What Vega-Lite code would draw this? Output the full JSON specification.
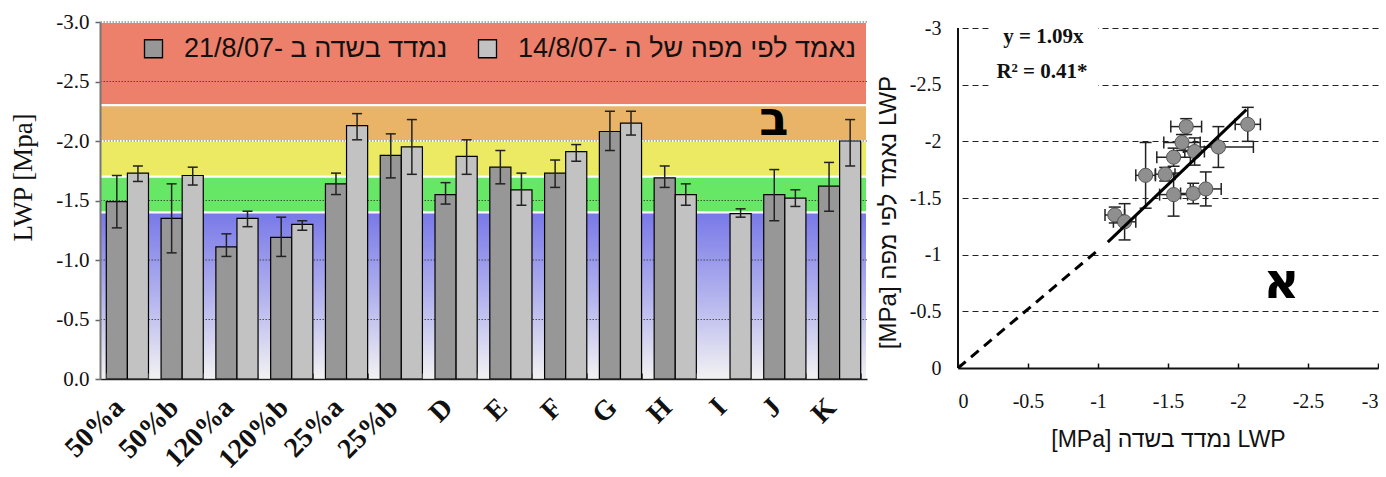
{
  "$schema": "https://vega.github.io/schema/vega-lite/v6.json",
  "background": "white",
  "padding": {"left": 9, "top": 11, "right": 0, "bottom": 0},
  "config": {"view": {"stroke": null}},
  "bounds": "flush",
  "spacing": 91,
  "datasets": {
    "bands": [
      {"band": "red", "y0": -3.0, "y1": -2.3},
      {"band": "orange", "y0": -2.3, "y1": -2.0},
      {"band": "yellow", "y0": -2.0, "y1": -1.7},
      {"band": "green", "y0": -1.7, "y1": -1.4}
    ],
    "grid": [{"g": -0.5}, {"g": -1.0}, {"g": -1.5}, {"g": -2.0}, {"g": -2.5}, {"g": -3.0}],
    "bars": [
      {"cat": "50%a", "s": "21/8/07- נמדד בשדה ב", "v": -1.49, "lo": -1.71, "hi": -1.27},
      {"cat": "50%a", "s": "14/8/07- נאמד לפי מפה של ה", "v": -1.73, "lo": -1.79, "hi": -1.66},
      {"cat": "50%b", "s": "21/8/07- נמדד בשדה ב", "v": -1.35, "lo": -1.64, "hi": -1.06},
      {"cat": "50%b", "s": "14/8/07- נאמד לפי מפה של ה", "v": -1.71, "lo": -1.78, "hi": -1.63},
      {"cat": "120%a", "s": "21/8/07- נמדד בשדה ב", "v": -1.11, "lo": -1.22, "hi": -1.03},
      {"cat": "120%a", "s": "14/8/07- נאמד לפי מפה של ה", "v": -1.35, "lo": -1.41, "hi": -1.28},
      {"cat": "120%b", "s": "21/8/07- נמדד בשדה ב", "v": -1.19, "lo": -1.36, "hi": -1.03},
      {"cat": "120%b", "s": "14/8/07- נאמד לפי מפה של ה", "v": -1.30, "lo": -1.33, "hi": -1.25},
      {"cat": "25%a", "s": "21/8/07- נמדד בשדה ב", "v": -1.64, "lo": -1.73, "hi": -1.55},
      {"cat": "25%a", "s": "14/8/07- נאמד לפי מפה של ה", "v": -2.13, "lo": -2.23, "hi": -2.01},
      {"cat": "25%b", "s": "21/8/07- נמדד בשדה ב", "v": -1.88, "lo": -2.06, "hi": -1.69},
      {"cat": "25%b", "s": "14/8/07- נאמד לפי מפה של ה", "v": -1.95, "lo": -2.18, "hi": -1.72},
      {"cat": "D", "s": "21/8/07- נמדד בשדה ב", "v": -1.55, "lo": -1.65, "hi": -1.47},
      {"cat": "D", "s": "14/8/07- נאמד לפי מפה של ה", "v": -1.87, "lo": -2.01, "hi": -1.72},
      {"cat": "E", "s": "21/8/07- נמדד בשדה ב", "v": -1.78, "lo": -1.92, "hi": -1.64},
      {"cat": "E", "s": "14/8/07- נאמד לפי מפה של ה", "v": -1.59, "lo": -1.73, "hi": -1.46},
      {"cat": "F", "s": "21/8/07- נמדד בשדה ב", "v": -1.73, "lo": -1.84, "hi": -1.61},
      {"cat": "F", "s": "14/8/07- נאמד לפי מפה של ה", "v": -1.91, "lo": -1.97, "hi": -1.83},
      {"cat": "G", "s": "21/8/07- נמדד בשדה ב", "v": -2.08, "lo": -2.25, "hi": -1.92},
      {"cat": "G", "s": "14/8/07- נאמד לפי מפה של ה", "v": -2.15, "lo": -2.25, "hi": -2.05},
      {"cat": "H", "s": "21/8/07- נמדד בשדה ב", "v": -1.69, "lo": -1.79, "hi": -1.61},
      {"cat": "H", "s": "14/8/07- נאמד לפי מפה של ה", "v": -1.55, "lo": -1.64, "hi": -1.46},
      {"cat": "I", "s": "14/8/07- נאמד לפי מפה של ה", "v": -1.39, "lo": -1.43, "hi": -1.36},
      {"cat": "J", "s": "21/8/07- נמדד בשדה ב", "v": -1.55, "lo": -1.76, "hi": -1.33},
      {"cat": "J", "s": "14/8/07- נאמד לפי מפה של ה", "v": -1.52, "lo": -1.59, "hi": -1.45},
      {"cat": "K", "s": "21/8/07- נמדד בשדה ב", "v": -1.62, "lo": -1.82, "hi": -1.41},
      {"cat": "K", "s": "14/8/07- נאמד לפי מפה של ה", "v": -2.00, "lo": -2.18, "hi": -1.79}
    ],
    "pts": [
      {"site": "G", "x": -2.07, "y": -2.15, "xa": -2.16, "xb": -1.98, "ya": -2.30, "yb": -2.00},
      {"site": "25%a", "x": -1.63, "y": -2.13, "xa": -1.74, "xb": -1.52, "ya": -2.20, "yb": -2.06},
      {"site": "K", "x": -1.60, "y": -1.99, "xa": -1.73, "xb": -1.47, "ya": -2.06, "yb": -1.92},
      {"site": "25%b", "x": -1.86, "y": -1.95, "xa": -2.11, "xb": -1.61, "ya": -2.13, "yb": -1.77},
      {"site": "F", "x": -1.69, "y": -1.91, "xa": -1.76, "xb": -1.62, "ya": -2.03, "yb": -1.79},
      {"site": "D", "x": -1.54, "y": -1.86, "xa": -1.66, "xb": -1.42, "ya": -1.94, "yb": -1.78},
      {"site": "50%b", "x": -1.34, "y": -1.70, "xa": -1.41, "xb": -1.27, "ya": -1.99, "yb": -1.41},
      {"site": "50%a", "x": -1.48, "y": -1.71, "xa": -1.55, "xb": -1.41, "ya": -1.77, "yb": -1.65},
      {"site": "J", "x": -1.54, "y": -1.53, "xa": -1.64, "xb": -1.44, "ya": -1.72, "yb": -1.34},
      {"site": "H", "x": -1.68, "y": -1.54, "xa": -1.77, "xb": -1.59, "ya": -1.63, "yb": -1.45},
      {"site": "E", "x": -1.77, "y": -1.58, "xa": -1.88, "xb": -1.66, "ya": -1.73, "yb": -1.43},
      {"site": "120%a", "x": -1.12, "y": -1.35, "xa": -1.19, "xb": -1.05, "ya": -1.42, "yb": -1.28},
      {"site": "120%b", "x": -1.19, "y": -1.29, "xa": -1.27, "xb": -1.11, "ya": -1.45, "yb": -1.13}
    ],
    "dash": [{"x": 0, "y": 0}, {"x": -1.0, "y": -1.04}],
    "fit": [{"x": -1.07, "y": -1.11}, {"x": -2.06, "y": -2.28}]
  },
  "hconcat": [
    {
      "width": 767,
      "height": 357,
      "layer": [
        {
          "data": {"name": "bands"},
          "mark": {"type": "rect", "stroke": "white", "strokeWidth": 2},
          "encoding": {
            "y": {"field": "y0", "type": "quantitative", "scale": {"domain": [-3, 0], "reverse": true, "nice": false, "zero": false},
              "axis": {"title": "LWP [Mpa]", "titleFont": "Liberation Serif", "titleFontSize": 27, "titleFontWeight": "normal", "titleColor": "#111",
                "titleX": -77, "titleY": 155, "titleAngle": -90, "titleAlign": "center", "titleBaseline": "middle",
                "values": [0, -0.5, -1, -1.5, -2, -2.5, -3],
                "labelExpr": "datum.value == 0 ? '0.0' : '-' + format(-datum.value, '.1f')",
                "labelFont": "Liberation Serif", "labelFontSize": 21, "labelColor": "#111", "labelPadding": 6,
                "tickSize": 5, "tickColor": "#666", "tickWidth": 1.5, "domainColor": "#777", "domainWidth": 2, "grid": false, "zindex": 1}},
            "y2": {"field": "y1"},
            "fill": {"field": "band", "type": "nominal",
              "scale": {"domain": ["red", "orange", "yellow", "green"], "range": ["#EC806A", "#E9B468", "#EBEA62", "#66E866"]},
              "legend": null}
          }
        },
        {
          "data": {"values": [{}]},
          "mark": {"type": "rect", "stroke": "white", "strokeWidth": 2,
            "fill": {"gradient": "linear", "x1": 0, "y1": 0, "x2": 0, "y2": 1,
              "stops": [{"offset": 0, "color": "#7878E8"}, {"offset": 0.5, "color": "#B2B2EE"}, {"offset": 1, "color": "#F2F2F2"}]}},
          "encoding": {
            "y": {"datum": -1.4, "type": "quantitative", "scale": {"domain": [-3, 0], "reverse": true, "nice": false, "zero": false}},
            "y2": {"datum": 0}
          }
        },
        {
          "data": {"name": "grid"},
          "mark": {"type": "rule", "color": "#333", "strokeWidth": 1, "strokeDash": [1.5, 1.5], "opacity": 0.8},
          "encoding": {
            "y": {"field": "g", "type": "quantitative", "scale": {"domain": [-3, 0], "reverse": true, "nice": false, "zero": false}}
          }
        },
        {
          "data": {"name": "bars"},
          "mark": {"type": "bar", "stroke": "black", "strokeWidth": 1.2},
          "encoding": {
            "x": {"field": "cat", "type": "nominal",
              "scale": {"domain": ["50%a", "50%b", "120%a", "120%b", "25%a", "25%b", "D", "E", "F", "G", "H", "I", "J", "K"], "paddingInner": 0.23, "paddingOuter": 0.115},
              "axis": {"title": null, "labelAngle": -45, "labelAlign": "right", "labelBaseline": "middle", "labelFont": "Liberation Serif", "labelFontWeight": "bold",
                "labelFontSize": 28, "labelColor": "#111", "labelPadding": 30, "labelOffset": -8, "labelLimit": 0, "tickBand": "extent", "tickSize": -6, "tickColor": "#444",
                "domainColor": "#222", "domainWidth": 1.5, "zindex": 1}},
            "xOffset": {"field": "s", "type": "nominal", "scale": {"domain": ["21/8/07- נמדד בשדה ב", "14/8/07- נאמד לפי מפה של ה"]}},
            "y": {"field": "v", "type": "quantitative", "scale": {"domain": [-3, 0], "reverse": true, "nice": false, "zero": false}},
            "color": {"field": "s", "type": "nominal",
              "scale": {"domain": ["21/8/07- נמדד בשדה ב", "14/8/07- נאמד לפי מפה של ה"], "range": ["#979797", "#C2C2C2"]},
              "legend": {"orient": "none", "legendX": 40, "legendY": 13, "direction": "horizontal", "title": null, "symbolType": "square", "symbolSize": 324,
                "symbolStrokeColor": "black", "symbolStrokeWidth": 1.3, "labelFont": "Liberation Sans, DejaVu Sans", "labelFontSize": 27,
                "labelColor": "#111", "labelOffset": 17, "labelLimit": 0, "columnPadding": 26, "padding": 0}}
          }
        },
        {
          "data": {"name": "bars"},
          "mark": {"type": "rule", "color": "#222", "strokeWidth": 1.5},
          "encoding": {
            "x": {"field": "cat", "type": "nominal",
              "scale": {"domain": ["50%a", "50%b", "120%a", "120%b", "25%a", "25%b", "D", "E", "F", "G", "H", "I", "J", "K"], "paddingInner": 0.23, "paddingOuter": 0.115}},
            "xOffset": {"field": "s", "type": "nominal", "scale": {"domain": ["21/8/07- נמדד בשדה ב", "14/8/07- נאמד לפי מפה של ה"]}},
            "y": {"field": "lo", "type": "quantitative", "scale": {"domain": [-3, 0], "reverse": true, "nice": false, "zero": false}},
            "y2": {"field": "hi"}
          }
        },
        {
          "data": {"name": "bars"},
          "mark": {"type": "point", "shape": "stroke", "size": 100, "filled": false, "stroke": "#222", "strokeWidth": 1.5, "opacity": 1},
          "encoding": {
            "x": {"field": "cat", "type": "nominal",
              "scale": {"domain": ["50%a", "50%b", "120%a", "120%b", "25%a", "25%b", "D", "E", "F", "G", "H", "I", "J", "K"], "paddingInner": 0.23, "paddingOuter": 0.115}},
            "xOffset": {"field": "s", "type": "nominal", "scale": {"domain": ["21/8/07- נמדד בשדה ב", "14/8/07- נאמד לפי מפה של ה"]}},
            "y": {"field": "lo", "type": "quantitative", "scale": {"domain": [-3, 0], "reverse": true, "nice": false, "zero": false}}
          }
        },
        {
          "data": {"name": "bars"},
          "mark": {"type": "point", "shape": "stroke", "size": 100, "filled": false, "stroke": "#222", "strokeWidth": 1.5, "opacity": 1},
          "encoding": {
            "x": {"field": "cat", "type": "nominal",
              "scale": {"domain": ["50%a", "50%b", "120%a", "120%b", "25%a", "25%b", "D", "E", "F", "G", "H", "I", "J", "K"], "paddingInner": 0.23, "paddingOuter": 0.115}},
            "xOffset": {"field": "s", "type": "nominal", "scale": {"domain": ["21/8/07- נמדד בשדה ב", "14/8/07- נאמד לפי מפה של ה"]}},
            "y": {"field": "hi", "type": "quantitative", "scale": {"domain": [-3, 0], "reverse": true, "nice": false, "zero": false}}
          }
        },
        {
          "data": {"values": [{}]},
          "mark": {"type": "text", "text": "ב", "font": "DejaVu Sans", "fontWeight": "bold", "fontSize": 48, "dx": -11, "align": "center", "baseline": "middle", "color": "black"},
          "encoding": {
            "x": {"datum": "J", "type": "nominal",
              "scale": {"domain": ["50%a", "50%b", "120%a", "120%b", "25%a", "25%b", "D", "E", "F", "G", "H", "I", "J", "K"], "paddingInner": 0.23, "paddingOuter": 0.115}},
            "y": {"datum": -2.17, "type": "quantitative", "scale": {"domain": [-3, 0], "reverse": true, "nice": false, "zero": false}}
          }
        }
      ]
    },
    {
      "width": 420,
      "height": 346,
      "layer": [
        {
          "data": {"name": "pts"},
          "mark": {"type": "point", "shape": "circle", "size": 200, "filled": true, "fill": "#8F8F8F", "stroke": "#555", "strokeWidth": 1, "opacity": 0},
          "encoding": {
            "x": {"field": "x", "type": "quantitative", "scale": {"domain": [-3, 0], "reverse": true, "nice": false, "zero": false},
              "axis": {"title": "[MPa] נמדד בשדה LWP", "titleFont": "Liberation Sans, DejaVu Sans", "titleFontSize": 23, "titleFontWeight": "normal", "titleColor": "#111", "titlePadding": 17,
                "values": [0, -0.5, -1, -1.5, -2, -2.5, -3],
                "labelExpr": "datum.value == 0 ? '0' : '-' + (-datum.value)",
                "labelFont": "Liberation Serif", "labelFontSize": 20, "labelColor": "#111", "labelPadding": 28,
                "tickSize": -5, "tickColor": "#111", "tickWidth": 1.5, "domainColor": "#111", "domainWidth": 2, "grid": false}},
            "y": {"field": "y", "type": "quantitative", "scale": {"domain": [-3.053, 0], "reverse": true, "nice": false, "zero": false},
              "axis": {"title": "[MPa] נאמד לפי מפה LWP", "titleFont": "Liberation Sans, DejaVu Sans", "titleFontSize": 24, "titleFontWeight": "normal", "titleColor": "#111",
                "titleX": -70, "titleY": 190, "titleAngle": -90, "titleAlign": "center", "titleBaseline": "middle",
                "values": [0, -0.5, -1, -1.5, -2, -2.5, -3],
                "labelExpr": "datum.value == 0 ? '0' : '-' + (-datum.value)",
                "labelFont": "Liberation Serif", "labelFontSize": 20, "labelColor": "#111", "labelPadding": 17,
                "ticks": false, "domain": false, "grid": true, "gridDash": [6, 4], "gridColor": "#222", "gridWidth": 1}}
          }
        },
        {
          "data": {"values": [{}]},
          "mark": {"type": "rect", "color": "white"},
          "encoding": {
            "x": {"datum": -0.22, "type": "quantitative", "scale": {"domain": [-3, 0], "reverse": true, "nice": false, "zero": false}},
            "x2": {"datum": -1.0},
            "y": {"datum": -2.42, "type": "quantitative", "scale": {"domain": [-3.053, 0], "reverse": true, "nice": false, "zero": false}},
            "y2": {"datum": -3.05}
          }
        },
        {
          "data": {"values": [{}]},
          "mark": {"type": "rule", "color": "#111", "strokeWidth": 2},
          "encoding": {
            "x": {"datum": 0, "type": "quantitative", "scale": {"domain": [-3, 0], "reverse": true, "nice": false, "zero": false}},
            "y": {"datum": 0, "type": "quantitative", "scale": {"domain": [-3.053, 0], "reverse": true, "nice": false, "zero": false}},
            "y2": {"datum": -3}
          }
        },
        {
          "data": {"name": "pts"},
          "mark": {"type": "rule", "color": "#222", "strokeWidth": 1.5},
          "encoding": {
            "x": {"field": "xa", "type": "quantitative", "scale": {"domain": [-3, 0], "reverse": true, "nice": false, "zero": false}},
            "x2": {"field": "xb"},
            "y": {"field": "y", "type": "quantitative", "scale": {"domain": [-3.053, 0], "reverse": true, "nice": false, "zero": false}}
          }
        },
        {
          "data": {"name": "pts"},
          "mark": {"type": "rule", "color": "#222", "strokeWidth": 1.5},
          "encoding": {
            "x": {"field": "x", "type": "quantitative", "scale": {"domain": [-3, 0], "reverse": true, "nice": false, "zero": false}},
            "y": {"field": "ya", "type": "quantitative", "scale": {"domain": [-3.053, 0], "reverse": true, "nice": false, "zero": false}},
            "y2": {"field": "yb"}
          }
        },
        {
          "data": {"name": "pts"},
          "mark": {"type": "point", "shape": "M0,-1L0,1", "size": 144, "filled": false, "stroke": "#222", "strokeWidth": 1.5, "opacity": 1},
          "encoding": {
            "x": {"field": "xa", "type": "quantitative", "scale": {"domain": [-3, 0], "reverse": true, "nice": false, "zero": false}},
            "y": {"field": "y", "type": "quantitative", "scale": {"domain": [-3.053, 0], "reverse": true, "nice": false, "zero": false}}
          }
        },
        {
          "data": {"name": "pts"},
          "mark": {"type": "point", "shape": "M0,-1L0,1", "size": 144, "filled": false, "stroke": "#222", "strokeWidth": 1.5, "opacity": 1},
          "encoding": {
            "x": {"field": "xb", "type": "quantitative", "scale": {"domain": [-3, 0], "reverse": true, "nice": false, "zero": false}},
            "y": {"field": "y", "type": "quantitative", "scale": {"domain": [-3.053, 0], "reverse": true, "nice": false, "zero": false}}
          }
        },
        {
          "data": {"name": "pts"},
          "mark": {"type": "point", "shape": "stroke", "size": 144, "filled": false, "stroke": "#222", "strokeWidth": 1.5, "opacity": 1},
          "encoding": {
            "x": {"field": "x", "type": "quantitative", "scale": {"domain": [-3, 0], "reverse": true, "nice": false, "zero": false}},
            "y": {"field": "ya", "type": "quantitative", "scale": {"domain": [-3.053, 0], "reverse": true, "nice": false, "zero": false}}
          }
        },
        {
          "data": {"name": "pts"},
          "mark": {"type": "point", "shape": "stroke", "size": 144, "filled": false, "stroke": "#222", "strokeWidth": 1.5, "opacity": 1},
          "encoding": {
            "x": {"field": "x", "type": "quantitative", "scale": {"domain": [-3, 0], "reverse": true, "nice": false, "zero": false}},
            "y": {"field": "yb", "type": "quantitative", "scale": {"domain": [-3.053, 0], "reverse": true, "nice": false, "zero": false}}
          }
        },
        {
          "data": {"name": "pts"},
          "mark": {"type": "point", "shape": "circle", "size": 200, "filled": true, "fill": "#8F8F8F", "stroke": "#555", "strokeWidth": 1, "opacity": 1},
          "encoding": {
            "x": {"field": "x", "type": "quantitative", "scale": {"domain": [-3, 0], "reverse": true, "nice": false, "zero": false}},
            "y": {"field": "y", "type": "quantitative", "scale": {"domain": [-3.053, 0], "reverse": true, "nice": false, "zero": false}}
          }
        },
        {
          "data": {"name": "dash"},
          "mark": {"type": "line", "color": "black", "strokeWidth": 3, "strokeDash": [10, 7]},
          "encoding": {
            "x": {"field": "x", "type": "quantitative", "scale": {"domain": [-3, 0], "reverse": true, "nice": false, "zero": false}},
            "y": {"field": "y", "type": "quantitative", "scale": {"domain": [-3.053, 0], "reverse": true, "nice": false, "zero": false}}
          }
        },
        {
          "data": {"name": "fit"},
          "mark": {"type": "line", "color": "black", "strokeWidth": 3},
          "encoding": {
            "x": {"field": "x", "type": "quantitative", "scale": {"domain": [-3, 0], "reverse": true, "nice": false, "zero": false}},
            "y": {"field": "y", "type": "quantitative", "scale": {"domain": [-3.053, 0], "reverse": true, "nice": false, "zero": false}}
          }
        },
        {
          "data": {"values": [{}]},
          "mark": {"type": "text", "text": "y = 1.09x", "font": "Liberation Serif", "fontWeight": "bold", "fontSize": 21, "align": "center", "baseline": "middle", "color": "#111"},
          "encoding": {
            "x": {"datum": -0.61, "type": "quantitative", "scale": {"domain": [-3, 0], "reverse": true, "nice": false, "zero": false}},
            "y": {"datum": -2.92, "type": "quantitative", "scale": {"domain": [-3.053, 0], "reverse": true, "nice": false, "zero": false}}
          }
        },
        {
          "data": {"values": [{}]},
          "mark": {"type": "text", "text": "R² = 0.41*", "font": "Liberation Serif", "fontWeight": "bold", "fontSize": 21, "align": "center", "baseline": "middle", "color": "#111"},
          "encoding": {
            "x": {"datum": -0.6, "type": "quantitative", "scale": {"domain": [-3, 0], "reverse": true, "nice": false, "zero": false}},
            "y": {"datum": -2.61, "type": "quantitative", "scale": {"domain": [-3.053, 0], "reverse": true, "nice": false, "zero": false}}
          }
        },
        {
          "data": {"values": [{}]},
          "mark": {"type": "text", "text": "א", "font": "DejaVu Sans", "fontWeight": "bold", "fontSize": 50, "align": "center", "baseline": "middle", "color": "black"},
          "encoding": {
            "x": {"datum": -2.31, "type": "quantitative", "scale": {"domain": [-3, 0], "reverse": true, "nice": false, "zero": false}},
            "y": {"datum": -0.75, "type": "quantitative", "scale": {"domain": [-3.053, 0], "reverse": true, "nice": false, "zero": false}}
          }
        }
      ]
    }
  ]
}
